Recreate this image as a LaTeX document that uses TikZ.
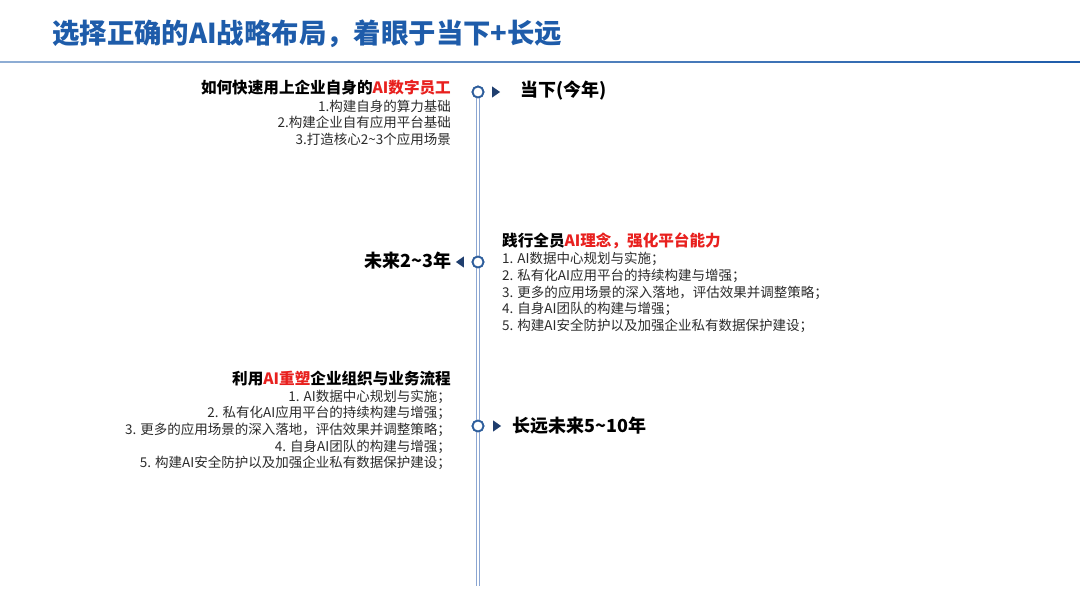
\documentclass[tikz,border=0pt]{standalone}
\usepackage{fontspec}
\setmainfont{Noto Sans CJK SC}
\usepackage{tikz}
\usetikzlibrary{shapes.geometric,positioning}

\definecolor{titleblue}{HTML}{1E5CAA}
\definecolor{lineblue}{HTML}{8BA6D2}
\definecolor{dotblue}{HTML}{2E5E9C}
\definecolor{tipblue}{HTML}{1F3E6E}
\definecolor{hired}{HTML}{E8201E}
\definecolor{itemgray}{HTML}{2B2B2B}

\tikzset{
  dot/.style={circle, draw=dotblue, fill=white, line width=1.8pt, minimum size=11pt, inner sep=0pt},
  tipR/.style={isosceles triangle, isosceles triangle apex angle=70, fill=tipblue, inner sep=0pt, minimum height=8pt, minimum width=8pt},
  tipL/.style={tipR, shape border rotate=180},
  stage/.style={font=\fontsize{18}{20}\selectfont\bfseries, inner sep=0pt},
  headtext/.style={font=\fontsize{15.6}{18}\selectfont\bfseries, inner sep=0pt},
  listtext/.style={font=\fontsize{13.5}{16.6}\selectfont, text=itemgray, inner sep=0pt}
}

\begin{document}
\begin{tikzpicture}[x=1pt,y=-1pt]
\useasboundingbox (0,0) rectangle (1080,608);
% Title
\node[anchor=west, inner sep=0pt, text=titleblue, font=\fontsize{27.4}{30}\selectfont\bfseries] (title) at (52,34) {选择正确的AI战略布局，着眼于当下+长远};
\shade[left color=titleblue!50, right color=titleblue] (0,61) rectangle (1080,62.6);
% Nodes
\coordinate (end) at (478,586);
\node[dot] (now) at (478,92) {};
\node[dot] (mid) at (478,262) {};
\node[dot] (far) at (478,426) {};
% Edges
\draw[lineblue, double=white, double distance=2.4pt, line width=0.9pt] (now.center) -- (mid.center) -- (far.center) -- (end);
\node[dot] at (now) {};
\node[dot] at (mid) {};
\node[dot] at (far) {};
% Arrow tips
\node[tipR] (nowtip) at (495,92) {};
\node[tipL] (midtip) at (461,262) {};
\node[tipR] (fartip) at (496,426) {};
% Stage labels
\node[stage, anchor=west] (nowlbl) at (520,91) {当下(今年)};
\node[stage, anchor=east] (midlbl) at (452,261) {未来2\textasciitilde3年};
\node[stage, anchor=west] (farlbl) at (512,426) {长远未来5\textasciitilde10年};
% Texts
\node[headtext, anchor=east] (nowT) at (451,88) {如何快速用上企业自身的\textcolor{hired}{AI数字员工}};
\node[listtext, anchor=north east, align=right] (nowL) at ([yshift=-4pt]nowT.south east) {1.构建自身的算力基础\\2.构建企业自有应用平台基础\\3.打造核心2\textasciitilde3个应用场景};
\node[headtext, anchor=west] (midT) at (502,241) {践行全员\textcolor{hired}{AI理念，强化平台能力}};
\node[listtext, anchor=north west, align=left] (midL) at ([yshift=-3pt]midT.south west) {1. AI数据中心规划与实施；\\2. 私有化AI应用平台的持续构建与增强；\\3. 更多的应用场景的深入落地，评估效果并调整策略；\\4. 自身AI团队的构建与增强；\\5. 构建AI安全防护以及加强企业私有数据保护建设；};
\node[headtext, anchor=east] (farT) at (451,379) {利用\textcolor{hired}{AI重塑}企业组织与业务流程};
\node[listtext, anchor=north east, align=right] (farL) at ([yshift=-3pt]farT.south east) {1. AI数据中心规划与实施；\\2. 私有化AI应用平台的持续构建与增强；\\3. 更多的应用场景的深入落地，评估效果并调整策略；\\4. 自身AI团队的构建与增强；\\5. 构建AI安全防护以及加强企业私有数据保护建设；};
\end{tikzpicture}
\end{document}
